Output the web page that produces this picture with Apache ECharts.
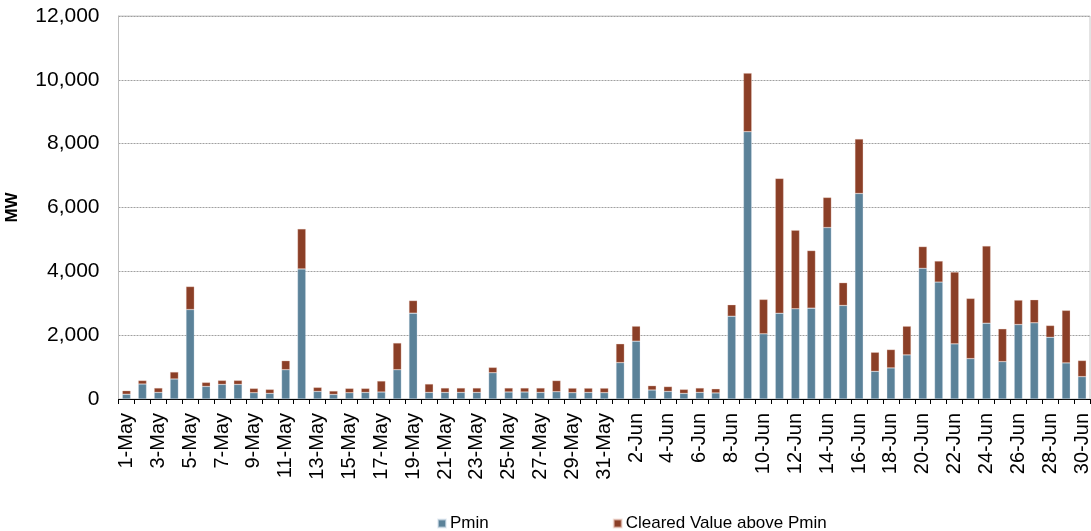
<!DOCTYPE html>
<html>
<head>
<meta charset="utf-8">
<script src="https://cdn.jsdelivr.net/npm/echarts@6/dist/echarts.min.js"></script>
<style>html,body{margin:0;padding:0;background:#fff;}#c{width:1091px;height:531px;}</style>
</head>
<body>
<div id="c"></div>
<script>
var categories = ["1-May","2-May","3-May","4-May","5-May","6-May","7-May","8-May","9-May","10-May",
"11-May","12-May","13-May","14-May","15-May","16-May","17-May","18-May","19-May","20-May",
"21-May","22-May","23-May","24-May","25-May","26-May","27-May","28-May","29-May","30-May","31-May",
"1-Jun","2-Jun","3-Jun","4-Jun","5-Jun","6-Jun","7-Jun","8-Jun","9-Jun","10-Jun",
"11-Jun","12-Jun","13-Jun","14-Jun","15-Jun","16-Jun","17-Jun","18-Jun","19-Jun","20-Jun",
"21-Jun","22-Jun","23-Jun","24-Jun","25-Jun","26-Jun","27-Jun","28-Jun","29-Jun","30-Jun"];

var pmin = [150,470,207,627,2803,395,458,458,197,176,
918,4075,238,144,197,207,219,918,2690,207,
207,207,207,824,220,220,207,229,200,207,200,
1141,1812,282,238,176,207,190,2594,8376,2042,
2689,2827,2847,5372,2931,6440,867,974,1382,4094,
3663,1728,1266,2375,1172,2334,2388,1935,1131,701];

var clearedAbovePmin = [110,110,138,219,721,125,125,125,135,125,
282,1254,126,107,135,125,345,837,394,263,
138,138,138,166,125,125,138,348,140,133,140,
589,470,135,151,125,138,130,359,1834,1078,
4223,2461,1803,943,713,1706,597,575,899,681,
660,2249,1885,2419,1027,764,722,368,1646,505];

var seriesNames = ["Pmin","Cleared Value above Pmin"];
var yTicks = {min: 0, max: 12000, interval: 2000};

var font = "'Liberation Sans', Arial, sans-serif";
var chart = echarts.init(document.getElementById('c'), null, {renderer: 'canvas'});
chart.setOption({
  animation: false,
  backgroundColor: '#fff',
  grid: {left: 118.5, right: 1, top: 16, bottom: 132, show: true, borderColor: '#c8c8c8', borderWidth: 1,
         containLabel: false, outerBoundsMode: 'none'},
  legend: {
    data: seriesNames,
    left: 432, top: 510,
    itemWidth: 8, itemHeight: 8, itemGap: 124,
    icon: 'rect',
    textStyle: {fontFamily: font, fontSize: 17, color: '#000', padding: [0,0,0,-1]}
  },
  xAxis: {
    type: 'category',
    data: categories,
    boundaryGap: true,
    axisLine: {show: true, lineStyle: {color: '#000', width: 1}},
    axisTick: {show: true, interval: 0, length: 5, lineStyle: {color: '#000'}},
    axisLabel: {interval: 1, rotate: 90, fontFamily: font, fontSize: 20, color: '#000', margin: 14},
    splitLine: {show: false}
  },
  yAxis: {
    type: 'value',
    min: yTicks.min, max: yTicks.max, interval: yTicks.interval,
    name: 'MW', nameLocation: 'middle', nameRotate: 90, nameGap: 98,
    nameTextStyle: {fontFamily: font, fontSize: 17, fontWeight: 'bold', color: '#000'},
    axisLine: {show: true, lineStyle: {color: '#bdbdbd'}},
    axisTick: {show: false},
    axisLabel: {fontFamily: font, fontSize: 21, color: '#000', margin: 19,
      formatter: function(v){ return v.toLocaleString('en-US'); }},
    splitLine: {show: true, lineStyle: {color: '#a0a0a0', type: [2,1], width: 1}}
  },
  series: [
    {name: seriesNames[0], type: 'bar', stack: 'a', data: pmin, barWidth: '52%',
     itemStyle: {color: '#5B8299', borderColor: 'rgba(220,230,240,0.6)', borderWidth: 0.5}},
    {name: seriesNames[1], type: 'bar', stack: 'a', data: clearedAbovePmin, barWidth: '52%',
     itemStyle: {color: '#8B3F27', borderColor: 'rgba(240,210,200,0.6)', borderWidth: 0.5}}
  ]
});
</script>
</body>
</html>
